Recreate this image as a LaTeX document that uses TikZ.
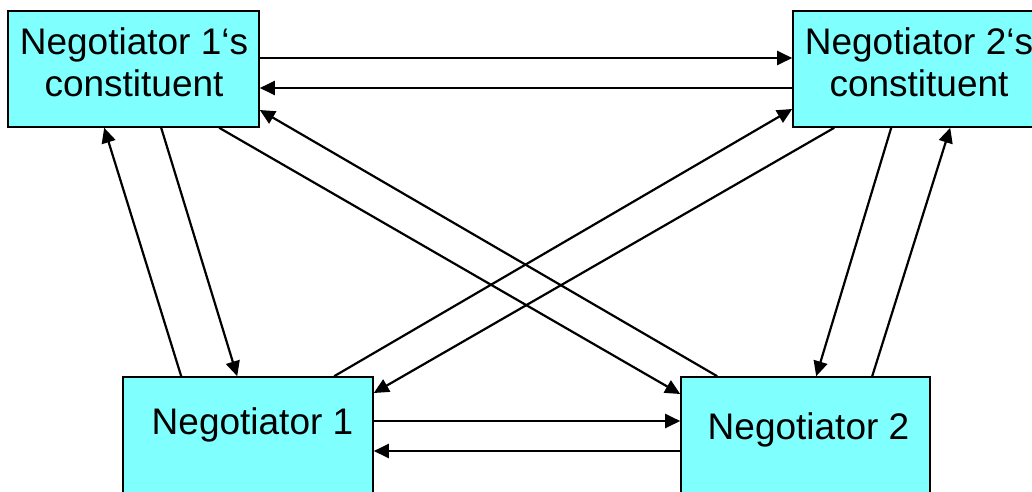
\documentclass[tikz,border=0pt]{standalone}
\usepackage{fontspec}
\setmainfont{Liberation Sans}
\usetikzlibrary{arrows.meta}
\definecolor{boxfill}{HTML}{80FFFF}
\tikzset{
  box/.style={draw=black, line width=1.6pt, fill=boxfill, inner sep=0pt},
  lbl/.style={font=\fontsize{37}{42}\selectfont, align=center, inner sep=0pt},
  conn/.style={line width=2.2pt, -{Triangle[length=15pt,width=14pt]}}
}
\begin{document}
\begin{tikzpicture}[x=1pt,y=-1pt]
\useasboundingbox (0,0) rectangle (1032,491);
\clip (0,0) rectangle (1032,491);
\fill[white] (0,0) rectangle (1032,491);
% boxes
\node[box, minimum width=251pt, minimum height=116pt] (c1) at (133.5,69) {};
\node[box, minimum width=251pt, minimum height=116pt] (c2) at (918.5,69) {};
\node[box, minimum width=250pt, minimum height=124pt] (n1) at (248,439) {};
\node[box, minimum width=249pt, minimum height=124pt] (n2) at (805.5,439) {};
% texts
\node[lbl] (c1t) at (134,62.5) {Negotiator 1‘s\\constituent};
\node[lbl] (c2t) at (919,62.5) {Negotiator 2‘s\\constituent};
\node[lbl, anchor=base] (n1t) at (252.5,434) {Negotiator 1};
\node[lbl, anchor=base] (n2t) at (808.5,439) {Negotiator 2};
% horizontal connectors
\draw[conn] ([yshift=11pt]c1.east) -- ([yshift=11pt]c2.west);
\draw[conn] ([yshift=-19pt]c2.west) -- ([yshift=-19pt]c1.east);
\draw[conn] ([yshift=18pt]n1.east) -- ([yshift=18pt]n2.west);
\draw[conn] ([yshift=-12pt]n2.west) -- ([yshift=-12pt]n1.east);
% left pair
\draw[conn] ([xshift=154pt]c1.south west) -- ([xshift=115pt]n1.north west);
\draw[conn] ([xshift=59pt]n1.north west) -- ([xshift=97pt]c1.south west);
% right pair
\draw[conn] ([xshift=99pt]c2.south west) -- ([xshift=136pt]n2.north west);
\draw[conn] ([xshift=192pt]n2.north west) -- ([xshift=158pt]c2.south west);
% diagonals
\draw[conn] ([xshift=212pt]c1.south west) -- ([yshift=45pt]n2.west);
\draw[conn] ([xshift=37pt]n2.north west) -- ([yshift=-41pt]c1.east);
\draw[conn] ([xshift=212pt]n1.north west) -- ([yshift=-40pt]c2.west);
\draw[conn] ([xshift=42pt]c2.south west) -- ([yshift=46pt]n1.east);
\end{tikzpicture}
\end{document}
